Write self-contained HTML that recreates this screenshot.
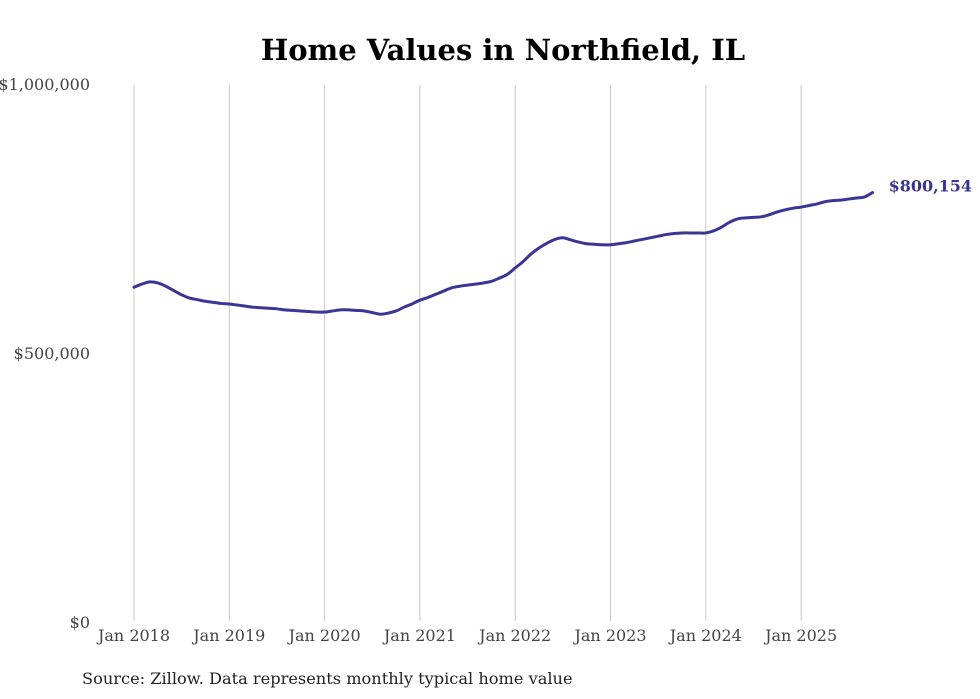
<!DOCTYPE html>
<html><head><meta charset="utf-8"><style>
html,body{margin:0;padding:0;background:#fff;}
svg{display:block;font-family:"DejaVu Serif","Liberation Serif",serif;}
</style></head><body>
<svg id="chart" width="980" height="699">
<text x="503" y="60" text-anchor="middle" font-size="29" font-weight="bold" fill="#000">Home Values in Northfield, IL</text>
<g id="grid"></g><g id="yaxis"></g><g id="xaxis"></g><g id="series"></g>
<text x="82" y="684" font-size="16.2" fill="#222">Source: Zillow. Data represents monthly typical home value</text>
</svg>
<script>
const yTicks = [0, 500000, 1000000];
const yTickLabels = ["$0", "$500,000", "$1,000,000"];
const xYears = [2018, 2019, 2020, 2021, 2022, 2023, 2024, 2025];
const xTickLabels = ["Jan 2018","Jan 2019","Jan 2020","Jan 2021","Jan 2022","Jan 2023","Jan 2024","Jan 2025"];
const values = [
624,630,634,632,626,618,610,604,601,598,596,594,
593,591,589,587,586,585,584,582,581,580,579,578,
578,580,582,582,581,580,577,574,576,580,587,593,
600,605,611,617,623,626,628,630,632,635,641,648,
660,672,686,697,706,713,716,712,708,705,704,703,
703,705,707,710,713,716,719,722,724,725,725,725,
725,729,736,745,751,753,754,755,759,764,768,771,
773,776,779,783,785,786,788,790,792,800.154
].map(v=>v*1000);
const lastLabel = "$800,154";
const NS="http://www.w3.org/2000/svg";
const x = m => 134 + m*(95.3/12);
const y = v => 623 - v/1000000*538;
function mk(tag, attrs, parent){const e=document.createElementNS(NS,tag);for(const k in attrs)e.setAttribute(k,attrs[k]);parent.appendChild(e);return e;}
const grid=document.getElementById('grid'), ya=document.getElementById('yaxis'), xa=document.getElementById('xaxis'), se=document.getElementById('series');
xYears.forEach((yr,i)=>{
  const px=x((yr-2018)*12);
  const l=mk('line',{x1:px,x2:px,y1:85,y2:621,stroke:'#c8c8c8','stroke-width':1},grid);
  
  
  const t=mk('text',{x:px,y:641,'text-anchor':'middle','font-size':16,fill:'#444'},xa);
  t.textContent=xTickLabels[i];
  
  
});
yTicks.forEach((v,i)=>{
  const t=mk('text',{x:90,y:y(v)+5,'text-anchor':'end','font-size':16,fill:'#444'},ya);
  t.textContent=yTickLabels[i];
  
  
});
const pts=values.map((v,i)=>[x(i),y(v)]);
let d='M'+pts[0][0].toFixed(2)+','+pts[0][1].toFixed(2);
for(let i=0;i<pts.length-1;i++){
  const p0=pts[Math.max(0,i-1)],p1=pts[i],p2=pts[i+1],p3=pts[Math.min(pts.length-1,i+2)];
  const c1=[p1[0]+(p2[0]-p0[0])/6,p1[1]+(p2[1]-p0[1])/6];
  const c2=[p2[0]-(p3[0]-p1[0])/6,p2[1]-(p3[1]-p1[1])/6];
  d+=' C'+c1.map(n=>n.toFixed(2)).join(',')+' '+c2.map(n=>n.toFixed(2)).join(',')+' '+p2.map(n=>n.toFixed(2)).join(',');
}
const p=mk('path',{d:d,fill:'none',stroke:'#3b3595','stroke-width':3,'stroke-linejoin':'round','stroke-linecap':'round'},se);


const li=values.length-1;
const lt=mk('text',{x:x(li)+16,y:y(values[li])-1,'font-size':16,'font-weight':'bold',fill:'#3b3591'},se);
lt.textContent=lastLabel;


</script>
</body></html>
